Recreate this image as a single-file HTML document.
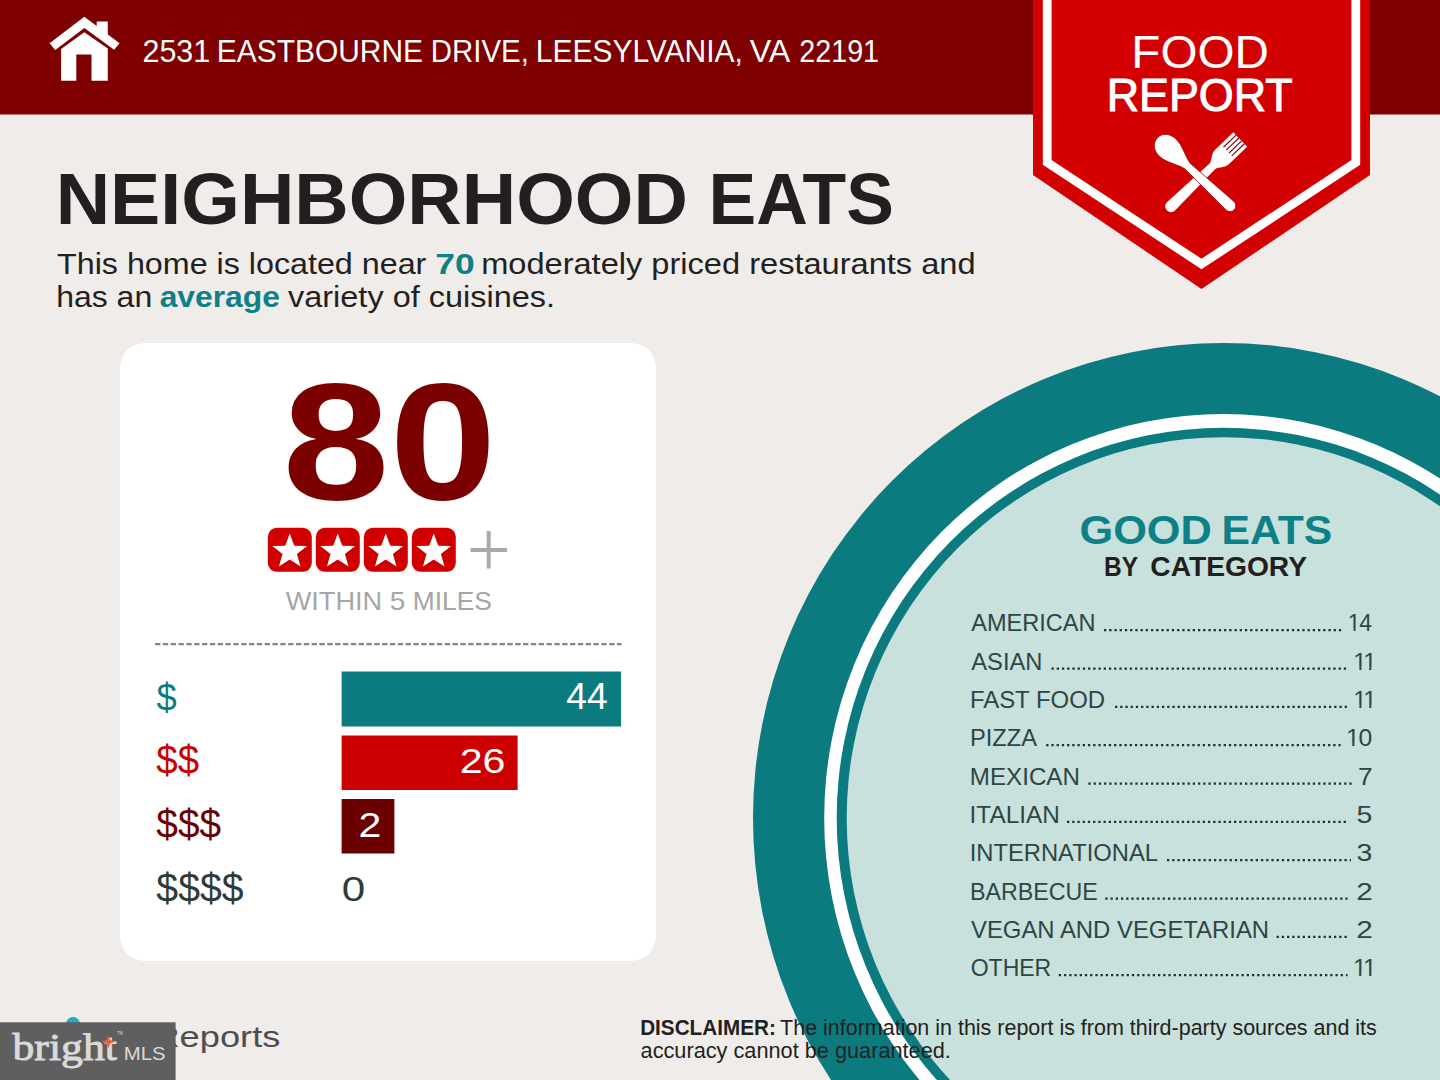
<!DOCTYPE html>
<html lang="en">
<head>
<meta charset="utf-8">
<title>Neighborhood Eats - Food Report</title>
<style>
html,body{margin:0;padding:0;background:#f0ece9;}
body{width:1440px;height:1080px;overflow:hidden;position:relative;font-family:"Liberation Sans",sans-serif;}
svg{position:absolute;left:0;top:0;display:block;}
text{font-family:"Liberation Sans",sans-serif;}
</style>
</head>
<body>
<svg width="1440" height="1080" viewBox="0 0 1440 1080" xmlns="http://www.w3.org/2000/svg">
<!-- background -->
<rect x="0" y="0" width="1440" height="1080" fill="#f0ece9"/>

<!-- big circle -->
<g id="circle">
<ellipse cx="1223.5" cy="818" rx="470.5" ry="475" fill="#0b7b80"/>
<ellipse cx="1223.5" cy="818" rx="399.3" ry="404" fill="#ffffff"/>
<ellipse cx="1223.5" cy="818" rx="386.8" ry="390.2" fill="#0b7b80"/>
<ellipse cx="1223.5" cy="818" rx="376.8" ry="380.8" fill="#c9e1dd"/>
</g>

<!-- header bar -->
<rect x="0" y="0" width="1440" height="114.5" fill="#7e0000"/>

<!-- house icon -->
<g id="house" fill="#ffffff">
<path d="M61.1 49 L84.3 32.2 L107.8 48.6 L107.8 80.7 L91.5 80.7 L91.5 54.4 L76.3 54.4 L76.3 80.7 L61.1 80.7 Z"/>
<path d="M49.6 43.3 L84.3 16.7 L96.7 26 L96.7 21.5 L107.8 21.5 L107.8 34.4 L119.6 43.3 L114.1 49.8 L84.4 28.1 L55.2 50 Z"/>
</g>

<!-- badge -->
<g id="badge">
<path d="M1033 0 L1370 0 L1370 175 L1201.5 289 L1033 175 Z" fill="#d20000"/>
<path d="M1047.2 0 L1047.2 162.5 L1201.5 264 L1355.8 162.5 L1355.8 0" fill="none" stroke="#ffffff" stroke-width="8.8"/>
</g>

<!-- spoon + fork -->
<g id="utensils" stroke="none">
<g transform="translate(1200.3 178) rotate(46)">
<path fill="#ffffff" d="M-10 -55.5 L10 -55.5 L10 -30 C10 -24 5 -22 3.9 -16.7 L5.8 40.8 A5.8 5.8 0 0 1 -5.8 40.8 L-3.9 -16.7 C-5 -22 -10 -24 -10 -30 Z"/>
<path fill="none" stroke="#8a0a0a" stroke-width="1.2" d="M-6 -55.5 L-6 -38 M-2 -55.5 L-2 -38 M2 -55.5 L2 -38 M6 -55.5 L6 -38"/>
</g>
<g transform="translate(1200.8 178.5) rotate(-47)">
<path fill="#ffffff" stroke="#b00000" stroke-width="0.8" d="M0 -59.5 C7.5 -59.5 12 -53 12 -45 C12 -36 6 -28 3.9 -18.3 L5.8 40 A5.8 5.8 0 0 1 -5.8 40 L-3.9 -18.3 C-6 -28 -12 -36 -12 -45 C-12 -53 -7.5 -59.5 0 -59.5 Z"/>
</g>
</g>

<!-- title + intro -->

<!-- card -->
<rect x="120" y="343" width="536" height="618" rx="25" ry="25" fill="#ffffff"/>
<!-- stars -->
<g id="stars">
<rect x="267.8" y="527.8" width="44" height="44" rx="9" fill="#d10000"/>
<rect x="315.8" y="527.8" width="44" height="44" rx="9" fill="#d10000"/>
<rect x="363.8" y="527.8" width="44" height="44" rx="9" fill="#d10000"/>
<rect x="411.8" y="527.8" width="44" height="44" rx="9" fill="#d10000"/>
<g fill="#ffffff">
<path transform="translate(289.75 551.8)" d="M0.0 -18.3 L4.5 -6.1 L17.4 -5.7 L7.2 2.3 L10.8 14.8 L0.0 7.6 L-10.8 14.8 L-7.2 2.3 L-17.4 -5.7 L-4.5 -6.1 Z"/>
<path transform="translate(337.75 551.8)" d="M0.0 -18.3 L4.5 -6.1 L17.4 -5.7 L7.2 2.3 L10.8 14.8 L0.0 7.6 L-10.8 14.8 L-7.2 2.3 L-17.4 -5.7 L-4.5 -6.1 Z"/>
<path transform="translate(385.75 551.8)" d="M0.0 -18.3 L4.5 -6.1 L17.4 -5.7 L7.2 2.3 L10.8 14.8 L0.0 7.6 L-10.8 14.8 L-7.2 2.3 L-17.4 -5.7 L-4.5 -6.1 Z"/>
<path transform="translate(433.75 551.8)" d="M0.0 -18.3 L4.5 -6.1 L17.4 -5.7 L7.2 2.3 L10.8 14.8 L0.0 7.6 L-10.8 14.8 L-7.2 2.3 L-17.4 -5.7 L-4.5 -6.1 Z"/>
</g>
<path d="M470.5 550 L507 550 M488.7 531 L488.7 568.5" stroke="#a9a9a9" stroke-width="4" fill="none"/>
</g>
<line x1="155" y1="644.1" x2="621.5" y2="644.1" stroke="#858585" stroke-width="2.3" stroke-dasharray="5.4 2.43"/>

<!-- price bars -->
<rect x="341.6" y="671.5" width="279.5" height="55" fill="#0b7b80"/>
<rect x="341.6" y="735.5" width="176" height="54.5" fill="#cc0000"/>
<rect x="341.6" y="799" width="52.8" height="54.5" fill="#6b0000"/>
<g id="cats" font-size="24" fill="#2f4544">
<line x1="1104.0" y1="630.1" x2="1342.0" y2="630.1" stroke="#1f2e2e" stroke-width="2.25" stroke-dasharray="2.25 2.97"/>
<line x1="1051.5" y1="668.5" x2="1347.5" y2="668.5" stroke="#1f2e2e" stroke-width="2.25" stroke-dasharray="2.25 2.97"/>
<line x1="1115.0" y1="706.8" x2="1347.5" y2="706.8" stroke="#1f2e2e" stroke-width="2.25" stroke-dasharray="2.25 2.97"/>
<line x1="1046.2" y1="745.1" x2="1340.6" y2="745.1" stroke="#1f2e2e" stroke-width="2.25" stroke-dasharray="2.25 2.97"/>
<line x1="1088.4" y1="783.5" x2="1351.6" y2="783.5" stroke="#1f2e2e" stroke-width="2.25" stroke-dasharray="2.25 2.97"/>
<line x1="1067.0" y1="821.8" x2="1347.5" y2="821.8" stroke="#1f2e2e" stroke-width="2.25" stroke-dasharray="2.25 2.97"/>
<line x1="1167.0" y1="860.1" x2="1351.0" y2="860.1" stroke="#1f2e2e" stroke-width="2.25" stroke-dasharray="2.25 2.97"/>
<line x1="1105.3" y1="898.5" x2="1347.5" y2="898.5" stroke="#1f2e2e" stroke-width="2.25" stroke-dasharray="2.25 2.97"/>
<line x1="1276.6" y1="936.8" x2="1347.5" y2="936.8" stroke="#1f2e2e" stroke-width="2.25" stroke-dasharray="2.25 2.97"/>
<line x1="1058.8" y1="975.1" x2="1347.5" y2="975.1" stroke="#1f2e2e" stroke-width="2.25" stroke-dasharray="2.25 2.97"/>
</g>
<text transform="translate(142.47 62.20) scale(0.9515 1)" font-size="32.00" fill="#ffffff">2531</text>
<text transform="translate(216.83 62.20) scale(0.9355 1)" font-size="32.00" fill="#ffffff">EASTBOURNE</text>
<text transform="translate(430.77 62.20) scale(0.9198 1)" font-size="32.00" fill="#ffffff">DRIVE,</text>
<text transform="translate(535.72 62.20) scale(0.9374 1)" font-size="32.00" fill="#ffffff">LEESYLVANIA,</text>
<text transform="translate(749.75 62.20) scale(1.0075 1)" font-size="32.00" fill="#ffffff">VA</text>
<text transform="translate(799.25 62.20) scale(0.8977 1)" font-size="32.00" fill="#ffffff">22191</text>
<text transform="translate(1131.37 67.50) scale(1.0470 1)" font-size="45.50" fill="#ffffff">FOOD</text>
<text transform="translate(1106.64 110.50) scale(0.9753 1)" font-size="46.00" fill="#ffffff" stroke="#ffffff" stroke-width="1">REPORT</text>
<text transform="translate(55.64 223.60) scale(1.0325 1)" font-size="73.00" fill="#231f20" font-weight="bold">NEIGHBORHOOD</text>
<text transform="translate(708.60 223.60) scale(0.9791 1)" font-size="73.00" fill="#231f20" font-weight="bold">EATS</text>
<text transform="translate(56.99 274.40) scale(1.0758 1)" font-size="30.00" fill="#231f20">This home is located near</text>
<text transform="translate(435.22 274.40) scale(1.1806 1)" font-size="30.00" fill="#0e8088" font-weight="bold">70</text>
<text transform="translate(481.13 274.40) scale(1.0865 1)" font-size="30.00" fill="#231f20">moderately priced restaurants and</text>
<text transform="translate(56.17 307.10) scale(1.0663 1)" font-size="30.00" fill="#231f20">has an</text>
<text transform="translate(159.64 307.10) scale(1.0610 1)" font-size="30.00" fill="#0e8088" font-weight="bold">average</text>
<text transform="translate(288.03 307.10) scale(1.0818 1)" font-size="30.00" fill="#231f20">variety of cuisines.</text>
<text transform="translate(282.47 498.50) scale(1.1484 1)" font-size="167.47" fill="#7b0000" font-weight="bold">80</text>
<text transform="translate(285.74 610.00) scale(1.0234 1)" font-size="26.50" fill="#a6a6a6">WITHIN</text>
<text transform="translate(389.74 610.00) scale(1.0560 1)" font-size="26.50" fill="#a6a6a6">5</text>
<text transform="translate(412.76 610.00) scale(0.9947 1)" font-size="26.50" fill="#a6a6a6">MILES</text>
<text transform="translate(156.39 710.65) scale(0.9167 1)" font-size="39.63" fill="#0b7b80">$</text>
<text transform="translate(156.37 774.35) scale(0.9686 1)" font-size="39.75" fill="#cc0000">$$</text>
<text transform="translate(156.36 838.15) scale(0.9733 1)" font-size="39.88" fill="#6b0000">$$$</text>
<text transform="translate(156.36 901.95) scale(0.9874 1)" font-size="39.75" fill="#2f3a3a">$$$$</text>
<text transform="translate(566.24 709.30) scale(1.0154 1)" font-size="36.69" fill="#ffffff">44</text>
<text transform="translate(459.68 772.95) scale(1.1531 1)" font-size="35.64" fill="#ffffff">26</text>
<text transform="translate(358.59 837.20) scale(1.1508 1)" font-size="35.65" fill="#ffffff">2</text>
<text transform="translate(341.71 900.95) scale(1.1940 1)" font-size="35.35" fill="#2f3a3a">0</text>
<text transform="translate(1079.45 543.75) scale(1.0571 1)" font-size="41.00" fill="#0e8088" font-weight="bold">GOOD</text>
<text transform="translate(1221.54 543.75) scale(1.0412 1)" font-size="41.00" fill="#0e8088" font-weight="bold">EATS</text>
<text transform="translate(1104.03 576.00) scale(0.8986 1)" font-size="27.30" fill="#231f20" font-weight="bold">BY</text>
<text transform="translate(1150.31 576.00) scale(1.0331 1)" font-size="27.30" fill="#231f20" font-weight="bold">CATEGORY</text>
<text transform="translate(971.25 631.25) scale(0.9899 1)" font-size="23.80" fill="#2f4544">AMERICAN</text>
<text transform="translate(1347.85 631.25) scale(0.9551 1)" font-size="23.80" fill="#2f4544" letter-spacing="-1.20" style="font-kerning:none">14</text><g transform="translate(1347.85 631.25) scale(0.9551 1)" fill="#c9e1dd"><rect x="0.61" y="-2.58" width="5.37" height="4.18"/><rect x="8.09" y="-2.58" width="5.19" height="4.18"/></g>
<text transform="translate(971.25 669.58) scale(0.9978 1)" font-size="23.80" fill="#2f4544">ASIAN</text>
<text transform="translate(1353.33 669.58) scale(1.0097 1)" font-size="23.80" fill="#2f4544" letter-spacing="-3.50" style="font-kerning:none">11</text><g transform="translate(1353.33 669.58) scale(1.0097 1)" fill="#c9e1dd"><rect x="0.61" y="-2.58" width="5.37" height="4.18"/><rect x="8.09" y="-2.58" width="5.19" height="4.18"/><rect x="10.35" y="-2.58" width="5.37" height="4.18"/><rect x="17.82" y="-2.58" width="5.19" height="4.18"/></g>
<text transform="translate(969.89 707.91) scale(1.0065 1)" font-size="23.80" fill="#2f4544">FAST FOOD</text>
<text transform="translate(1353.33 707.91) scale(1.0097 1)" font-size="23.80" fill="#2f4544" letter-spacing="-3.50" style="font-kerning:none">11</text><g transform="translate(1353.33 707.91) scale(1.0097 1)" fill="#c9e1dd"><rect x="0.61" y="-2.58" width="5.37" height="4.18"/><rect x="8.09" y="-2.58" width="5.19" height="4.18"/><rect x="10.35" y="-2.58" width="5.37" height="4.18"/><rect x="17.82" y="-2.58" width="5.19" height="4.18"/></g>
<text transform="translate(969.91 746.24) scale(0.9962 1)" font-size="23.80" fill="#2f4544">PIZZA</text>
<text transform="translate(1346.06 746.24) scale(1.0386 1)" font-size="23.80" fill="#2f4544" letter-spacing="-1.20" style="font-kerning:none">10</text><g transform="translate(1346.06 746.24) scale(1.0386 1)" fill="#c9e1dd"><rect x="0.61" y="-2.58" width="5.37" height="4.18"/><rect x="8.09" y="-2.58" width="5.19" height="4.18"/></g>
<text transform="translate(969.87 784.57) scale(1.0153 1)" font-size="23.80" fill="#2f4544">MEXICAN</text>
<text transform="translate(1358.02 784.57) scale(1.1023 1)" font-size="23.80" fill="#2f4544" style="font-kerning:none">7</text>
<text transform="translate(969.60 822.90) scale(1.0226 1)" font-size="23.80" fill="#2f4544">ITALIAN</text>
<text transform="translate(1356.60 822.90) scale(1.1956 1)" font-size="23.80" fill="#2f4544" style="font-kerning:none">5</text>
<text transform="translate(969.65 861.23) scale(0.9989 1)" font-size="23.80" fill="#2f4544">INTERNATIONAL</text>
<text transform="translate(1356.60 861.23) scale(1.1956 1)" font-size="23.80" fill="#2f4544" style="font-kerning:none">3</text>
<text transform="translate(969.95 899.56) scale(0.9766 1)" font-size="23.80" fill="#2f4544">BARBECUE</text>
<text transform="translate(1356.24 899.56) scale(1.2512 1)" font-size="23.80" fill="#2f4544" style="font-kerning:none">2</text>
<text transform="translate(971.00 937.89) scale(1.0041 1)" font-size="23.80" fill="#2f4544">VEGAN AND VEGETARIAN</text>
<text transform="translate(1356.24 937.89) scale(1.2512 1)" font-size="23.80" fill="#2f4544" style="font-kerning:none">2</text>
<text transform="translate(970.69 976.22) scale(0.9672 1)" font-size="23.80" fill="#2f4544">OTHER</text>
<text transform="translate(1352.98 976.22) scale(1.0290 1)" font-size="23.80" fill="#2f4544" letter-spacing="-3.50" style="font-kerning:none">11</text><g transform="translate(1352.98 976.22) scale(1.0290 1)" fill="#c9e1dd"><rect x="0.61" y="-2.58" width="5.37" height="4.18"/><rect x="8.09" y="-2.58" width="5.19" height="4.18"/><rect x="10.35" y="-2.58" width="5.37" height="4.18"/><rect x="17.82" y="-2.58" width="5.19" height="4.18"/></g>
<text transform="translate(640.14 1035.30) scale(0.9721 1)" font-size="21.30" fill="#231f20" font-weight="bold">DISCLAIMER:</text>
<text transform="translate(780.10 1035.30) scale(1.0093 1)" font-size="21.30" fill="#231f20">The information in this report is from third-party sources and its</text>
<text transform="translate(640.58 1058.00) scale(1.0204 1)" font-size="21.30" fill="#231f20">accuracy cannot be guaranteed.</text>
<text transform="translate(153.44 1046.90) scale(1.2093 1)" font-size="30.00" fill="#4d4d4d">Reports</text>
<!-- footer -->
<ellipse cx="73" cy="1025.5" rx="7.5" ry="8.5" fill="#2aaab6"/>
<!-- watermark -->
<rect x="0" y="1022.3" width="175.6" height="57.7" fill="#5f5f5f"/>
<text transform="translate(12.50 1060.40) scale(1.1514 1)" font-size="38.00" fill="#dadada" style="font-family:&quot;Liberation Serif&quot;,serif" stroke="#dadada" stroke-width="0.9">bright</text>
<text transform="translate(123.87 1060.40) scale(1.1556 1)" font-size="17.60" fill="#dadada">MLS</text>
<text transform="translate(117.00 1035.00) scale(0.8800 1)" font-size="4.50" fill="#dadada">TM</text>
<path d="M108.3 1035.2 L110 1040 L115 1041.7 L110 1043.4 L108.3 1048.2 L106.6 1043.4 L101.6 1041.7 L106.6 1040 Z" fill="#e8603c"/>
</svg>
</body>
</html>
